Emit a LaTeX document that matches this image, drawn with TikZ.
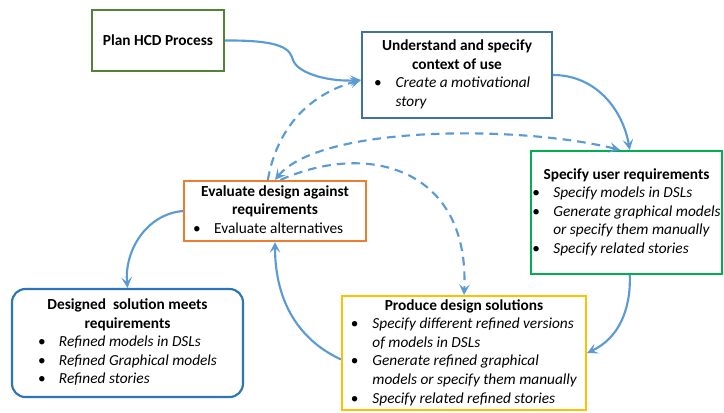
\documentclass[tikz,border=0pt]{standalone}
\usepackage{fontspec}
\setmainfont{Carlito}
\usetikzlibrary{arrows.meta}

\definecolor{planGreen}{HTML}{548235}
\definecolor{contextBlue}{HTML}{41719C}
\definecolor{userGreen}{HTML}{00B050}
\definecolor{evalOrange}{HTML}{ED7D31}
\definecolor{solutionBlue}{HTML}{2E75B6}
\definecolor{produceGold}{HTML}{FFC000}
\definecolor{arrowBlue}{HTML}{5B9BD5}

\begin{document}
\begin{tikzpicture}[x=0.75pt,y=-0.75pt,
  >={Stealth[length=8pt,width=8pt,inset=3.5pt]},
  stage/.style={draw, line width=1.6pt, inner sep=0pt, fill=white,
    font=\fontsize{11.5}{13.9}\selectfont},
  flow/.style={draw, line width=1.6pt, arrowBlue},
  iter/.style={flow, dash pattern=on 6.5pt off 4.5pt}]
\useasboundingbox (0,0) rectangle (724,412);

\node[stage, draw=planGreen, minimum width=99pt, minimum height=45.75pt] (plan) at (158,40.5) {\textbf{Plan HCD Process}};

\node[stage, draw=contextBlue, minimum width=142.5pt, minimum height=64.5pt] (und) at (457,75) {\begin{tabular}{@{}l@{\hspace{10.5pt}}l@{}}
\multicolumn{2}{c}{\textbf{Understand and specify}}\\
\multicolumn{2}{c}{\textbf{context of use}}\\
\textbullet & \textit{Create a motivational}\\
 & \textit{story}
\end{tabular}};

\node[stage, draw=userGreen, minimum width=143.25pt, minimum height=92.25pt] (spec) at (626.5,212.5) {\begin{tabular}{@{}l@{\hspace{10pt}}l@{}}
\multicolumn{2}{c}{\textbf{Specify user requirements}}\\
\textbullet & \textit{Specify models in DSLs}\\
\textbullet & \textit{Generate graphical models}\\
 & \textit{or specify them manually}\\
\textbullet & \textit{Specify related stories}
\end{tabular}};

\node[stage, draw=evalOrange, minimum width=136.5pt, minimum height=45pt] (eval) at (275,211) {\begin{tabular}{@{}l@{\hspace{10pt}}l@{}}
\multicolumn{2}{c}{\textbf{Evaluate design against}}\\
\multicolumn{2}{c}{\textbf{requirements}}\\
\textbullet & Evaluate alternatives
\end{tabular}};

\node[stage, draw=solutionBlue, rounded corners=10pt, minimum width=173.25pt, minimum height=81pt] (des) at (127.5,343) {\begin{tabular}{@{}l@{\hspace{10pt}}l@{}}
\multicolumn{2}{c}{\textbf{Designed\ \ solution meets}}\\
\multicolumn{2}{c}{\textbf{requirements}}\\
\textbullet & \textit{Refined models in DSLs}\\
\textbullet & \textit{Refined Graphical models}\\
\textbullet & \textit{Refined stories}
\end{tabular}};

\node[stage, draw=produceGold, minimum width=183pt, minimum height=85.5pt] (prod) at (464,353) {\begin{tabular}{@{}l@{\hspace{10.5pt}}l@{}}
\multicolumn{2}{c}{\textbf{Produce design solutions}}\\
\textbullet & \textit{Specify different refined versions}\\
 & \textit{of models in DSLs}\\
\textbullet & \textit{Generate refined graphical}\\
 & \textit{models or specify them manually}\\
\textbullet & \textit{Specify related refined stories}
\end{tabular}};

% main cycle
\path[flow,->] (plan.east) .. controls (285,40) and (290,50) .. (293,60) .. controls (298,74) and (330,82) .. (und.183);
\path[flow,->] (und.east) to[out=0,in=100] (spec.87);
\path[flow,->] (spec.273) to[out=-88,in=25] (prod.east);
\path[flow,->] (prod.183) to[out=155,in=-90] (eval.south);
\path[flow,->] (eval.west) to[out=185,in=95] (des.north);

% iterations
\path[iter,->] (eval.103) to[out=80,in=195] (und.183);
\path[iter,<->] (eval.north) .. controls (320,125) and (520,125) .. (spec.96);
\path[iter,->] (eval.80) .. controls (370,140) and (470,170) .. (prod.north);

\end{tikzpicture}
\end{document}
